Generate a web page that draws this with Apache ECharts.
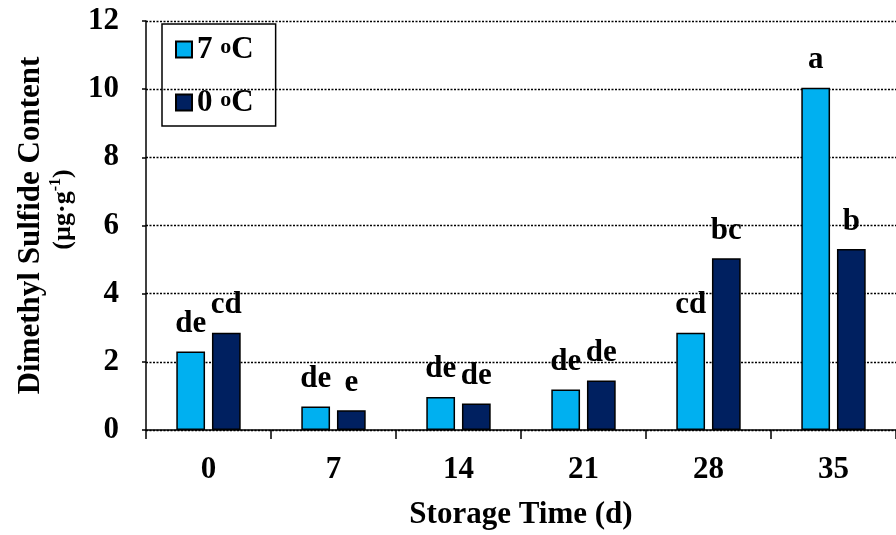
<!DOCTYPE html>
<html>
<head>
<meta charset="utf-8">
<script src="https://cdn.jsdelivr.net/npm/echarts@6/dist/echarts.min.js"></script>
<style>
html,body{margin:0;padding:0;background:#fff;}
#chart{width:896px;height:535px;}
</style>
</head>
<body>
<div id="chart"></div>
<script>
const categories = ['0', '7', '14', '21', '28', '35'];
const warmValues = [2.30, 0.69, 0.97, 1.19, 2.85, 10.04];
const coldValues = [2.85, 0.58, 0.78, 1.45, 5.04, 5.31];
const warmLetters = ['de', 'de', 'de', 'de', 'cd', 'a'];
const coldLetters = ['cd', 'e', 'de', 'de', 'bc', 'b'];
const yTicks = [0, 2, 4, 6, 8, 10, 12];

const FONT = "'Liberation Serif', 'Times New Roman', serif";
const chart = echarts.init(document.getElementById('chart'), null, {renderer: 'canvas'});

const labelStyle = {
  show: true,
  position: 'top',
  distance: 12,
  fontFamily: FONT,
  fontWeight: 'bold',
  fontSize: 31,
  color: '#000'
};

chart.setOption({
  animation: false,
  backgroundColor: '#fff',
  grid: {left: 146, top: 21, width: 757, height: 412, containLabel: false},
  legend: {
    orient: 'vertical',
    left: 162,
    top: 24,
    padding: [10, 22, 8, 13],
    itemGap: 22,
    itemWidth: 16,
    itemHeight: 16,
    borderColor: '#000',
    borderWidth: 1.5,
    icon: 'rect',
    formatter: function (name) {
      return '{t|' + name + ' }{s|o}{t|C}';
    },
    textStyle: {
      fontFamily: FONT,
      fontWeight: 'bold',
      fontSize: 31,
      color: '#000',
      rich: {
        t: {fontFamily: FONT, fontWeight: 'bold', fontSize: 31, color: '#000'},
        s: {fontFamily: FONT, fontWeight: 'bold', fontSize: 22, color: '#000', verticalAlign: 'top', padding: [2, 0, 0, 0]}
      }
    },
    data: ['7', '0']
  },
  xAxis: {
    type: 'category',
    data: categories,
    boundaryGap: true,
    name: 'Storage Time (d)',
    nameLocation: 'middle',
    nameGap: 69,
    nameTextStyle: {fontFamily: FONT, fontWeight: 'bold', fontSize: 31, color: '#000'},
    axisLine: {show: true, lineStyle: {color: '#000', width: 1.5}},
    axisTick: {show: true, length: 9, lineStyle: {color: '#000', width: 1.5}},
    axisLabel: {fontFamily: FONT, fontWeight: 'bold', fontSize: 31, color: '#000', margin: 24},
    splitLine: {show: false}
  },
  yAxis: {
    type: 'value',
    min: yTicks[0],
    max: yTicks[yTicks.length - 1],
    interval: 2,
    name: '{a|Dimethyl Sulfide Content}\n{p|(µg·g}{s|-1}{b|)}',
    nameLocation: 'middle',
    nameRotate: 90,
    nameGap: 68,
    nameTextStyle: {
      color: '#000',
      rich: {
        a: {fontFamily: FONT, fontWeight: 'bold', fontSize: 31, color: '#000', lineHeight: 34},
        p: {fontFamily: FONT, fontWeight: 'bold', fontSize: 26, color: '#000', lineHeight: 30, padding: [0, 0, 0, 32]},
        b: {fontFamily: FONT, fontWeight: 'bold', fontSize: 26, color: '#000', lineHeight: 30},
        s: {fontFamily: FONT, fontWeight: 'bold', fontSize: 16, color: '#000', verticalAlign: 'top', lineHeight: 30}
      }
    },
    axisLine: {show: true, lineStyle: {color: '#000', width: 1.5}},
    axisTick: {show: true, length: 4, lineStyle: {color: '#000', width: 1.5}},
    axisLabel: {fontFamily: FONT, fontWeight: 'bold', fontSize: 31, color: '#000', margin: 27},
    splitLine: {show: true, lineStyle: {color: '#000', width: 1.3, type: [2, 1.5]}}
  },
  series: [
    {
      name: '7',
      type: 'bar',
      data: warmValues,
      barWidth: '23%',
      barGap: '24%',
      itemStyle: {color: '#00B0F0', borderColor: '#000', borderWidth: 1.5},
      label: Object.assign({}, labelStyle, {formatter: function (p) { return warmLetters[p.dataIndex]; }})
    },
    {
      name: '0',
      type: 'bar',
      data: coldValues,
      barWidth: '23%',
      itemStyle: {color: '#002060', borderColor: '#000', borderWidth: 1.5},
      label: Object.assign({}, labelStyle, {formatter: function (p) { return coldLetters[p.dataIndex]; }})
    }
  ]
});
</script>
</body>
</html>
